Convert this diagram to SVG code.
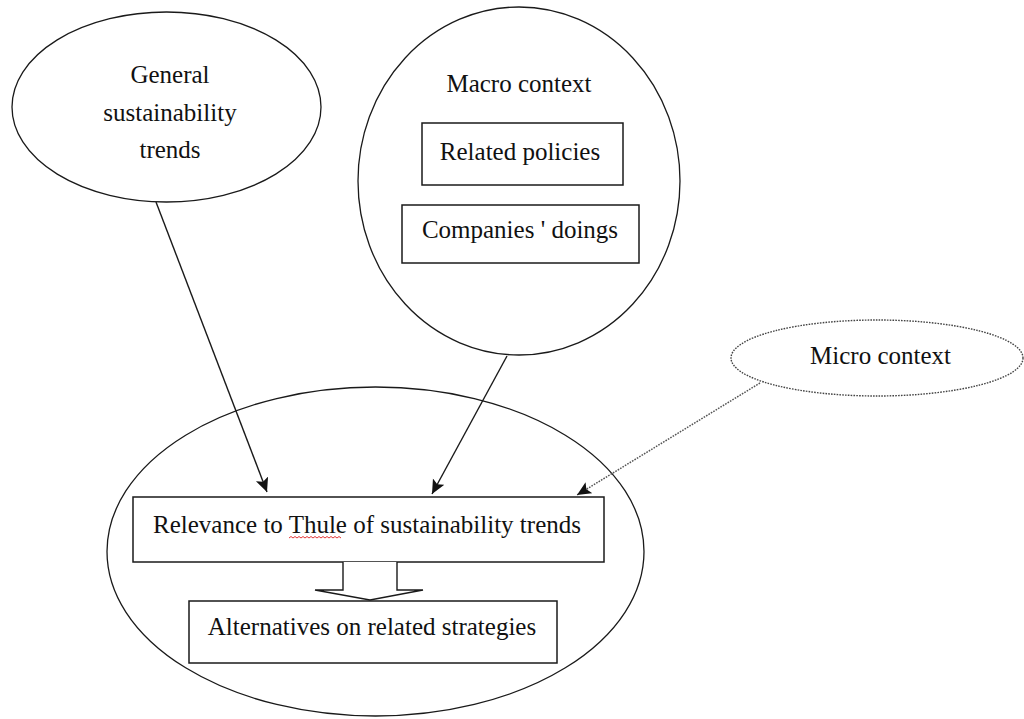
<svg xmlns="http://www.w3.org/2000/svg" width="1024" height="719" viewBox="0 0 1024 719">
  <style>
    .shape { fill: #ffffff; stroke: #1a1a1a; stroke-width: 1.3; }
    .box { fill: #ffffff; stroke: #1a1a1a; stroke-width: 1.5; }
    .dotted { fill: #ffffff; stroke: #444444; stroke-width: 1.4; stroke-dasharray: 1.6 1.2; }
    .label { font-family: "Liberation Serif", "Times New Roman", serif; font-size: 25px; fill: #111111; text-anchor: middle; }
    .link { fill: none; stroke: #1a1a1a; stroke-width: 1.4; }
    .link-dotted { fill: none; stroke: #555555; stroke-width: 1.5; stroke-dasharray: 1.6 1.2; }
  </style>
  <defs>
    <marker id="head" markerUnits="userSpaceOnUse" markerWidth="16" markerHeight="14" refX="14" refY="6.5" orient="auto">
      <path d="M0,0 L14,6.5 L0,13 L3,6.5 z" fill="#111111"/>
    </marker>
  </defs>

  <!-- outer context ellipse holding the two result boxes -->
  <g id="relevance-area">
    <ellipse class="shape" cx="375.5" cy="551.5" rx="268.5" ry="164.5"/>
  </g>

  <g id="general-trends">
    <ellipse class="shape" cx="166.5" cy="107" rx="154.5" ry="95"/>
    <text class="label" x="170" y="83">General</text>
    <text class="label" x="170" y="121">sustainability</text>
    <text class="label" x="170" y="158">trends</text>
  </g>

  <g id="macro-context">
    <ellipse class="shape" cx="519" cy="181" rx="161" ry="174"/>
    <text class="label" x="519" y="92">Macro context</text>
  </g>

  <g id="related-policies">
    <rect class="box" x="422" y="123" width="201" height="62"/>
    <text class="label" x="520" y="160">Related policies</text>
  </g>

  <g id="companies-doings">
    <rect class="box" x="402" y="205" width="237" height="58"/>
    <text class="label" x="520" y="238">Companies ' doings</text>
  </g>

  <g id="micro-context">
    <ellipse class="dotted" cx="877" cy="358" rx="146" ry="38"/>
    <text class="label" x="880.5" y="364">Micro context</text>
  </g>

  <g id="relevance-box">
    <rect class="box" x="133" y="497" width="471" height="65"/>
    <text class="label" x="367" y="533">Relevance to Thule of sustainability trends</text>
    <!-- spell-check squiggle under "Thule" -->
    <path d="M289,538 l2,-1.5 l2,1.5 l2,-1.5 l2,1.5 l2,-1.5 l2,1.5 l2,-1.5 l2,1.5 l2,-1.5 l2,1.5 l2,-1.5 l2,1.5 l2,-1.5 l2,1.5 l2,-1.5 l2,1.5 l2,-1.5 l2,1.5 l2,-1.5 l2,1.5 l2,-1.5 l2,1.5 l2,-1.5 l2,1.5 l2,-1.5 l2,1.5" fill="none" stroke="#e02020" stroke-width="0.9"/>
  </g>

  <g id="alternatives-box">
    <rect class="box" x="189" y="601" width="368" height="62"/>
    <text class="label" x="372" y="635">Alternatives on related strategies</text>
  </g>

  <g id="connectors">
    <line class="link" x1="156" y1="202" x2="267" y2="492" marker-end="url(#head)"/>
    <line class="link" x1="507" y1="356" x2="432" y2="494" marker-end="url(#head)"/>
    <line class="link-dotted" x1="760" y1="383" x2="577" y2="495" marker-end="url(#head)"/>
    <!-- hollow block arrow between the two boxes -->
    <path d="M343,562 L343,590 L315,590 L370,600 L423,590 L397,590 L397,562" fill="#ffffff" stroke="#1a1a1a" stroke-width="1.4" stroke-linejoin="miter"/>
  </g>
</svg>
